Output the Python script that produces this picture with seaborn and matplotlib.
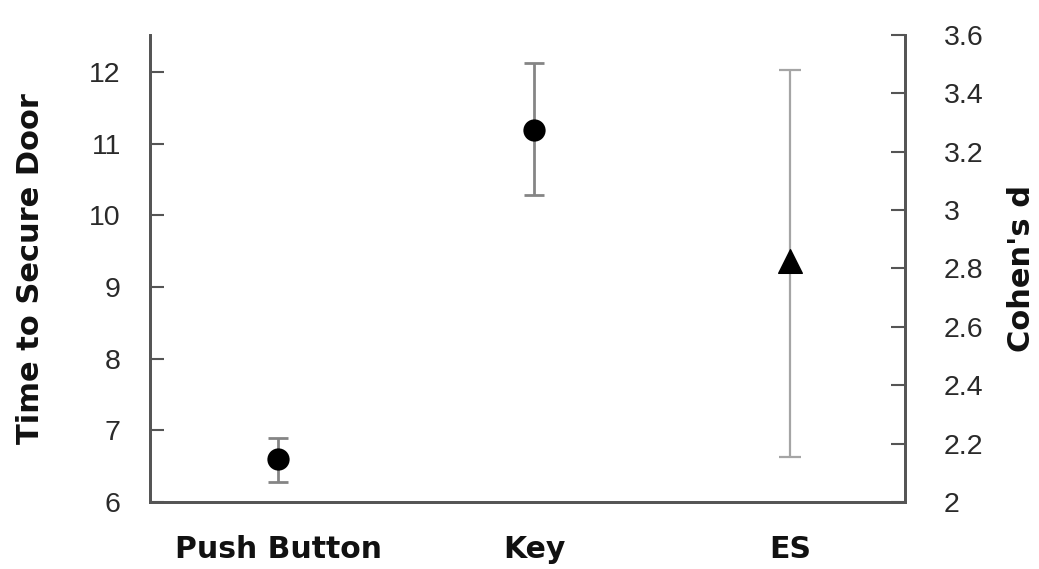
import numpy as np
import pandas as pd
import matplotlib
matplotlib.use("Agg")
import matplotlib.pyplot as plt
import seaborn as sns
from matplotlib.ticker import FuncFormatter

# data
conditions = ["Push Button", "Key", "ES"]
time_mean = [6.6, 11.2]
time_low = [6.28, 10.28]
time_high = [6.9, 12.13]
cohen_d = 2.825
cohen_low = 2.155
cohen_high = 3.48

sns.set_style("white")
plt.rcParams['font.family'] = ['Liberation Sans', 'DejaVu Sans']

fig = plt.figure(figsize=(10.39, 5.69), dpi=100)
ax = fig.add_axes([0.1444, 0.1178, 0.7267, 0.8207])
ax2 = ax.twinx()

pos = np.arange(len(conditions))

# left axis: time to secure door
df = pd.DataFrame({"cond": conditions[:2], "x": pos[:2], "y": time_mean})
yerr = [np.array(time_mean) - np.array(time_low), np.array(time_high) - np.array(time_mean)]
ax.errorbar(df["x"], df["y"], yerr=yerr, fmt="none", ecolor="#858585", elinewidth=2, capsize=7, capthick=2, zorder=2)
sns.scatterplot(data=df, x="x", y="y", ax=ax, color="black", marker="o", s=220, edgecolor="black", zorder=3)

# right axis: effect size
ax2.errorbar([pos[2]], [cohen_d], yerr=[[cohen_d - cohen_low], [cohen_high - cohen_d]], fmt="none",
             ecolor="#a5a5a5", elinewidth=1.6, capsize=8, capthick=1.6, zorder=2)
ax2.scatter([pos[2]], [cohen_d], marker="^", s=290, color="black", zorder=3)

ax.set_xlim(-0.5, 2.45)
ax.set_ylim(6, 12.52)
ax2.set_ylim(2, 3.6)
ax.set_yticks(range(6, 13))
ax2.set_yticks(np.arange(2, 3.61, 0.2))
ax2.yaxis.set_major_formatter(FuncFormatter(lambda v, p: f"{v:g}"))

bold = dict(family="DejaVu Sans", fontweight="bold", color="#111111")
ax.set_xticks(pos)
ax.set_xticklabels(conditions, fontsize=21.5, **bold)
ax.set_xlabel("")
ax.set_ylabel("Time to Secure Door", fontsize=22, labelpad=32, **bold)
ax2.set_ylabel("Cohen's d", fontsize=22, labelpad=17, **bold)

spine_col = "#555555"
for a in (ax, ax2):
    a.spines["top"].set_visible(False)
    for s in ("left", "right", "bottom"):
        a.spines[s].set_color(spine_col)
        a.spines[s].set_linewidth(2)

ax.tick_params(axis="y", direction="in", length=10, width=1.5, color=spine_col, labelsize=20.5, pad=21, labelcolor="#2a2a2a")
ax.tick_params(axis="x", length=0, pad=24)
ax2.tick_params(axis="y", direction="in", length=10, width=1.5, color=spine_col, labelsize=20.5, pad=28, labelcolor="#2a2a2a")

fig.savefig("out.png", dpi=100)
